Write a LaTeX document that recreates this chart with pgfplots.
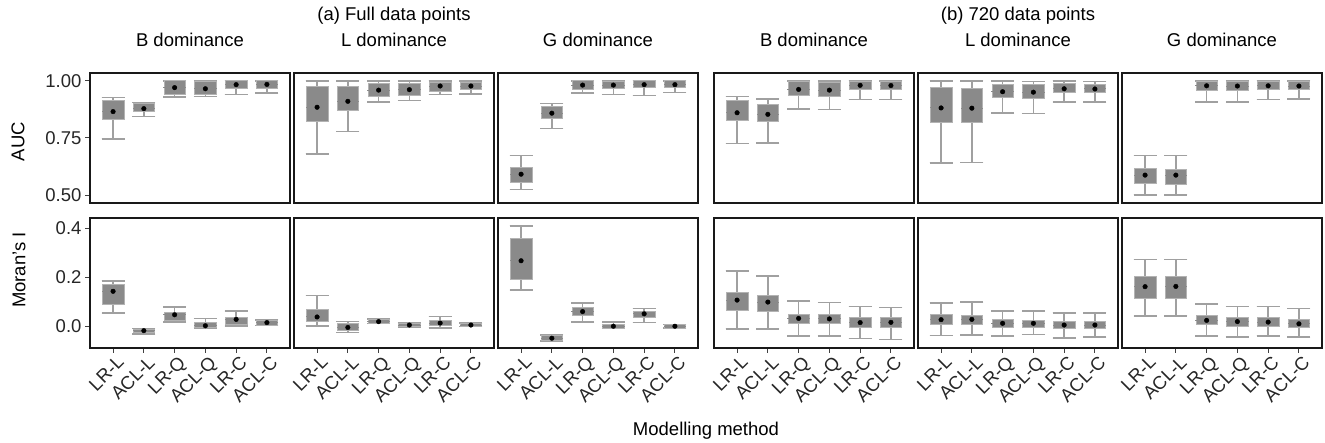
\documentclass[border=0pt]{standalone}
\usepackage{fontspec}
\setmainfont{Liberation Sans}
\usepackage{pgfplots}
\pgfplotsset{compat=1.18}
\usepgfplotslibrary{statistics}
\definecolor{bfill}{HTML}{8A8A8A}
\definecolor{wcol}{HTML}{A0A0A0}
\newcommand\fs{\fontsize{18.5pt}{22pt}\selectfont}
% \bx{position}{lower whisker}{lower quartile}{upper quartile}{upper whisker}{mean}
\newcommand{\bx}[6]{%
  \addplot[draw=wcol, fill=bfill, line width=1.5pt,
    boxplot/draw direction=y,
    boxplot prepared={draw position=#1, lower whisker=#2, lower quartile=#3,
      median=#6, upper quartile=#4, upper whisker=#5,
      box extend=0.7, whisker extend=0.75},
    boxplot/every median/.style={draw=bfill, line width=0pt},
    boxplot/every box/.style={draw=wcol!80, line width=0.6pt, fill=bfill}]
    coordinates {};
  \addplot[only marks, mark=*, mark size=2.3pt, mark options={fill=black, draw=black}]
    coordinates {(#1,#6)};
}
\pgfplotsset{
  panel/.style={scale only axis, width=200pt, height=130pt, xmin=0.25, xmax=6.75,
    axis line style={line width=1.3pt, black!90}, tick align=outside,
    major tick length=5pt, tick style={line width=0.9pt, black!75},
    xtick pos=bottom, ytick pos=left,
    ticklabel style={font=\fs, text=black!85}, anchor=south west},
  aucrow/.style={panel, ymin=0.465, ymax=1.034, xtick=\empty, ytick=\empty},
  morrow/.style={panel, ymin=-0.09, ymax=0.442, ytick=\empty,
    xtick={1,...,6}, xticklabels={LR-L,ACL-L,LR-Q,ACL-Q,LR-C,ACL-C},
    xticklabel style={rotate=45, anchor=north east, inner sep=1pt, yshift=-2pt, xshift=2pt}},
}
\begin{document}
\begin{tikzpicture}[x=1pt,y=1pt]
\useasboundingbox (0,0) rectangle (1325,443);
% titles
\node[font=\fs, anchor=base] at (394,422.3) {(a) Full data points};
\node[font=\fs, anchor=base] at (1018,422.3) {(b) 720 data points};
\foreach \cx/\t in {190/B dominance,394/L dominance,598/G dominance,814/B dominance,1018/L dominance,1222/G dominance}
  \node[font=\fs, anchor=base] at (\cx,396.3) {\t};
\node[font=\fs, rotate=90] at (18,301.5) {AUC};
\node[font=\fs, rotate=90] at (19,173) {Moran’s I};
\node[font=\fs, anchor=base] at (706,7) {Modelling method};

% ---------- AUC row ----------
\begin{axis}[aucrow, at={(90pt,240pt)}, ytick={0.5,0.75,1}, yticklabels={0.50,0.75,1.00}]
\bx{1}{0.746}{0.832}{0.913}{0.926}{0.865}
\bx{2}{0.843}{0.866}{0.903}{0.905}{0.878}
\bx{3}{0.930}{0.940}{1.000}{1.000}{0.970}
\bx{4}{0.932}{0.940}{0.996}{1.000}{0.965}
\bx{5}{0.939}{0.968}{1.000}{1.000}{0.983}
\bx{6}{0.946}{0.969}{1.000}{1.000}{0.984}
\end{axis}
\begin{axis}[aucrow, at={(294pt,240pt)}]
\bx{1}{0.680}{0.824}{0.977}{1.000}{0.884}
\bx{2}{0.779}{0.871}{0.977}{1.000}{0.910}
\bx{3}{0.906}{0.933}{0.990}{1.000}{0.959}
\bx{4}{0.913}{0.938}{0.990}{1.000}{0.961}
\bx{5}{0.940}{0.956}{0.994}{1.000}{0.977}
\bx{6}{0.943}{0.961}{0.993}{1.000}{0.977}
\end{axis}
\begin{axis}[aucrow, at={(498pt,240pt)}]
\bx{1}{0.523}{0.555}{0.622}{0.673}{0.591}
\bx{2}{0.792}{0.837}{0.890}{0.900}{0.858}
\bx{3}{0.946}{0.962}{1.000}{1.000}{0.981}
\bx{4}{0.940}{0.968}{0.998}{1.000}{0.981}
\bx{5}{0.936}{0.973}{1.000}{1.000}{0.983}
\bx{6}{0.948}{0.973}{1.000}{1.000}{0.983}
\end{axis}
\begin{axis}[aucrow, at={(714pt,240pt)}]
\bx{1}{0.725}{0.829}{0.913}{0.932}{0.860}
\bx{2}{0.727}{0.823}{0.898}{0.921}{0.853}
\bx{3}{0.877}{0.935}{0.996}{1.000}{0.962}
\bx{4}{0.875}{0.932}{0.995}{1.000}{0.959}
\bx{5}{0.917}{0.961}{0.999}{1.000}{0.980}
\bx{6}{0.917}{0.961}{0.999}{1.000}{0.979}
\end{axis}
\begin{axis}[aucrow, at={(918pt,240pt)}]
\bx{1}{0.641}{0.820}{0.972}{1.000}{0.881}
\bx{2}{0.642}{0.817}{0.965}{1.000}{0.880}
\bx{3}{0.858}{0.927}{0.985}{1.000}{0.952}
\bx{4}{0.857}{0.923}{0.983}{0.996}{0.950}
\bx{5}{0.906}{0.949}{0.987}{1.000}{0.965}
\bx{6}{0.906}{0.948}{0.983}{0.996}{0.964}
\end{axis}
\begin{axis}[aucrow, at={(1122pt,240pt)}]
\bx{1}{0.500}{0.549}{0.616}{0.673}{0.587}
\bx{2}{0.500}{0.548}{0.613}{0.673}{0.587}
\bx{3}{0.908}{0.959}{0.999}{1.000}{0.978}
\bx{4}{0.907}{0.958}{0.999}{1.000}{0.977}
\bx{5}{0.919}{0.964}{0.999}{1.000}{0.978}
\bx{6}{0.921}{0.962}{0.998}{1.000}{0.977}
\end{axis}

% ---------- Moran's I row ----------
\begin{axis}[morrow, at={(90pt,95pt)}, ytick={0,0.2,0.4}, yticklabels={0.0,0.2,0.4}]
\bx{1}{0.053}{0.089}{0.172}{0.185}{0.142}
\bx{2}{-0.033}{-0.027}{-0.012}{-0.010}{-0.019}
\bx{3}{0.016}{0.023}{0.056}{0.078}{0.046}
\bx{4}{-0.008}{-0.005}{0.016}{0.030}{0.001}
\bx{5}{-0.001}{0.008}{0.036}{0.061}{0.027}
\bx{6}{0.003}{0.004}{0.023}{0.025}{0.014}
\end{axis}
\begin{axis}[morrow, at={(294pt,95pt)}]
\bx{1}{0.001}{0.018}{0.070}{0.125}{0.037}
\bx{2}{-0.027}{-0.016}{0.010}{0.019}{-0.006}
\bx{3}{0.010}{0.011}{0.026}{0.028}{0.018}
\bx{4}{-0.004}{-0.003}{0.012}{0.013}{0.004}
\bx{5}{-0.008}{0.001}{0.023}{0.038}{0.012}
\bx{6}{-0.003}{-0.002}{0.011}{0.012}{0.004}
\end{axis}
\begin{axis}[morrow, at={(498pt,95pt)}]
\bx{1}{0.147}{0.191}{0.358}{0.410}{0.267}
\bx{2}{-0.062}{-0.060}{-0.038}{-0.036}{-0.050}
\bx{3}{0.016}{0.042}{0.078}{0.095}{0.059}
\bx{4}{-0.010}{-0.008}{0.008}{0.016}{-0.001}
\bx{5}{0.014}{0.037}{0.061}{0.072}{0.050}
\bx{6}{-0.009}{-0.008}{0.005}{0.006}{-0.001}
\end{axis}
\begin{axis}[morrow, at={(714pt,95pt)}]
\bx{1}{-0.012}{0.065}{0.138}{0.226}{0.106}
\bx{2}{-0.012}{0.061}{0.127}{0.204}{0.098}
\bx{3}{-0.040}{0.011}{0.049}{0.102}{0.031}
\bx{4}{-0.040}{0.011}{0.049}{0.097}{0.029}
\bx{5}{-0.052}{-0.005}{0.034}{0.080}{0.014}
\bx{6}{-0.055}{-0.005}{0.035}{0.075}{0.015}
\end{axis}
\begin{axis}[morrow, at={(918pt,95pt)}]
\bx{1}{-0.038}{0.005}{0.049}{0.095}{0.026}
\bx{2}{-0.036}{0.007}{0.045}{0.098}{0.027}
\bx{3}{-0.041}{-0.005}{0.026}{0.061}{0.011}
\bx{4}{-0.035}{-0.005}{0.025}{0.061}{0.011}
\bx{5}{-0.050}{-0.011}{0.020}{0.054}{0.004}
\bx{6}{-0.046}{-0.011}{0.020}{0.054}{0.004}
\end{axis}
\begin{axis}[morrow, at={(1122pt,95pt)}]
\bx{1}{0.040}{0.113}{0.202}{0.272}{0.161}
\bx{2}{0.041}{0.113}{0.202}{0.272}{0.162}
\bx{3}{-0.040}{0.005}{0.044}{0.091}{0.023}
\bx{4}{-0.044}{0.000}{0.036}{0.079}{0.018}
\bx{5}{-0.040}{0.000}{0.036}{0.080}{0.016}
\bx{6}{-0.046}{-0.005}{0.027}{0.071}{0.009}
\end{axis}
\end{tikzpicture}
\end{document}
